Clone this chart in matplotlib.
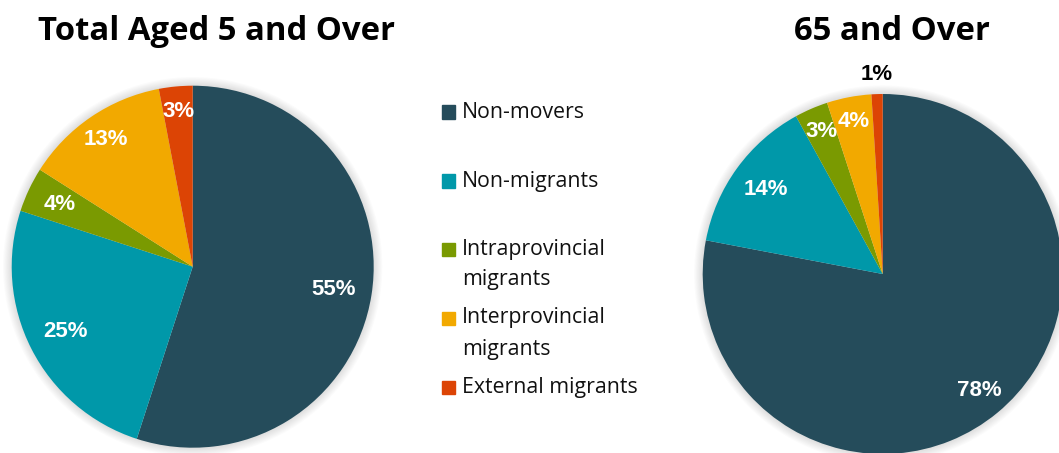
import numpy as np
import matplotlib
matplotlib.use("Agg")
import matplotlib.pyplot as plt
from matplotlib.patches import Circle, Rectangle

categories = ["Non-movers", "Non-migrants", "Intraprovincial\nmigrants",
              "Interprovincial\nmigrants", "External migrants"]
total_5_over = [55, 25, 4, 13, 3]
aged_65_over = [78, 14, 3, 4, 1]
colors = ["#254C5B", "#0098A9", "#7A9A01", "#F2A900", "#DC4405"]

# label distance from centre (fraction of radius), per wedge
left_dist = [0.79, 0.79, 0.81, 0.85, 0.86]
right_dist = [0.84, 0.80, 0.86, 0.86, 1.11]

W, H = 1059, 453
fig = plt.figure(figsize=(W / 100, H / 100), dpi=100)


def px_axes(cx, cy, r):
    # axes box in pixel coords (y from top) -> figure fraction
    return fig.add_axes([(cx - r) / W, (H - cy - r) / H, 2 * r / W, 2 * r / H])


def draw_pie(ax, values, dists, outside=()):
    # soft grey glow around the pie
    for i in range(8):
        ax.add_patch(Circle((0, 0), 1.0 + 0.006 * (i + 1), color="black",
                            alpha=0.014, lw=0, clip_on=False, zorder=0))
    wedges, _ = ax.pie(values, colors=colors, startangle=90, counterclock=False,
                       radius=1.0, wedgeprops=dict(linewidth=0))
    for w in wedges:
        w.set_zorder(1)
    for w, v, d in zip(wedges, values, dists):
        ang = np.deg2rad((w.theta1 + w.theta2) / 2)
        x, y = d * np.cos(ang), d * np.sin(ang)
        col = "black" if v in outside else "white"
        ax.text(x, y, f"{v}%", ha="center", va="center", color=col,
                fontsize=16, fontweight="bold", family="Liberation Sans",
                zorder=3, clip_on=False)
    ax.set_xlim(-1, 1)
    ax.set_ylim(-1, 1)
    ax.set_aspect("equal")
    ax.axis("off")


ax1 = px_axes(192.7, 266.7, 181)
draw_pie(ax1, total_5_over, left_dist)

ax2 = px_axes(882.7, 274, 180)
draw_pie(ax2, aged_65_over, right_dist, outside=(1,))

fig.text(216 / W, 1 - 31 / H, "Total Aged 5 and Over", ha="center", va="center",
         fontsize=23.7, fontweight="bold", family="Open Sans")
fig.text(892 / W, 1 - 31 / H, "65 and Over", ha="center", va="center",
         fontsize=23.7, fontweight="bold", family="Open Sans")

# legend, drawn by hand so the squares line up with the first text line
leg_y = [112, 181, 249, 318, 387]
line_gap = 31
for name, col, y in zip(categories, colors, leg_y):
    fig.patches.append(Rectangle((442 / W, 1 - (y + 6.5) / H), 13 / W, 13 / H,
                                 transform=fig.transFigure, color=col))
    for i, line in enumerate(name.split("\n")):
        fig.text(462 / W, 1 - (y + i * line_gap) / H, line, ha="left",
                 va="center", fontsize=15.3, family="Open Sans",
                 color="#111111")

fig.savefig("out.png", dpi=100, facecolor="white")
